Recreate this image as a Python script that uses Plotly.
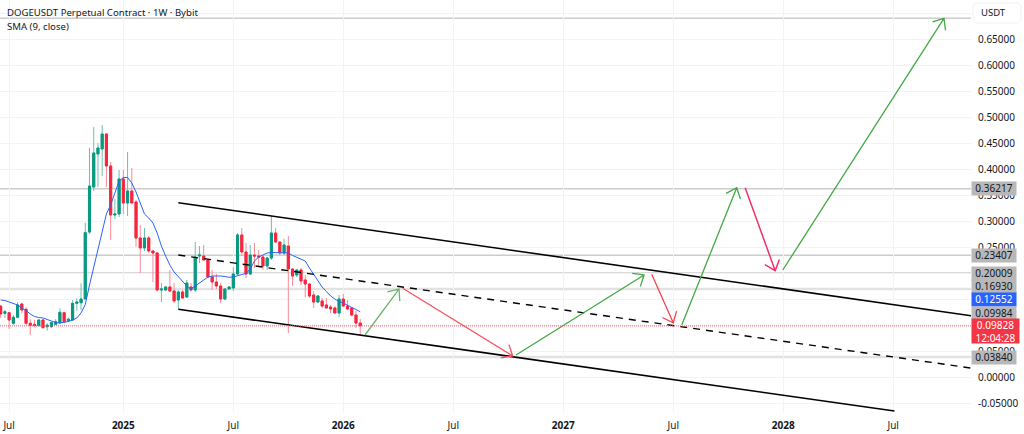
import math
import plotly.graph_objects as go

# ---- data -------------------------------------------------------------
bars = list(range(86))
open_ = [.1365,.1225,.1237,.1033,.1148,.1404,.1302,.1033,.1013,.0987,.1096,.0967,.0967,.1013,.1044,.1237,.1083,.1096,.1417,.1429,.15,
         .2788,.3654,.4288,.4385,.4673,.4058,.3115,.3135,.3808,.3346,.3577,.3365,.2673,.2481,.2673,.2423,.2385,.1673,.1673,.1731,.1654,.1481,.1635,.1538,.1731,.1673,
         .2327,.2327,.225,.1923,.1827,.175,.15,.1692,.1712,.1981,.2731,.2404,.1981,.2346,.2327,.2308,.2135,.2288,.2769,.2596,.2385,.2519,.2077,.1962,.2058,.1865,.1788,.1577,.1442,.1462,.1385,.1346,.1327,.1231,.15,.1365,.1327,.1192,.1038]
high = [.1375,.1288,.1250,.1192,.1437,.1429,.1340,.1110,.1096,.1110,.1110,.1033,.1063,.1110,.1321,.1256,.1148,.1481,.1513,.1802,.2967,
        .4404,.4808,.45,.4846,.4680,.4135,.3423,.3981,.3981,.4327,.4019,.3404,.2923,.2865,.2712,.2442,.2390,.1808,.175,.2058,.1808,.1673,.1673,.1865,.1808,.2596,
        .2519,.2538,.2255,.2058,.1981,.1808,.1712,.175,.2115,.2769,.2865,.2577,.2538,.2577,.2442,.2346,.2308,.3096,.2865,.2600,.2654,.2712,.2096,.2077,.2096,.1962,.1808,.1654,.1577,.1519,.1519,.1385,.1365,.1577,.1596,.1481,.1346,.1269,.1115]
low = [.1135,.1135,.0923,.1,.1129,.1225,.1,.0808,.0967,.0967,.0937,.0890,.0937,.1,.1033,.1033,.1063,.1083,.1269,.1288,.15,
       .275,.3577,.3654,.3865,.3654,.2635,.3038,.3077,.3135,.3096,.3346,.25,.2,.2423,.2385,.1827,.1654,.1442,.1654,.1635,.1423,.1308,.1519,.1519,.1654,.1635,
       .2192,.2231,.1904,.1673,.1692,.1423,.1481,.1685,.1654,.1962,.2327,.1904,.1962,.2096,.2115,.2058,.2058,.225,.2577,.2346,.2346,.0846,.175,.1923,.1769,.1538,.1519,.1327,.1423,.1327,.1327,.1231,.1212,.1154,.1346,.1288,.1173,.0942,.0808]
close = [.1212,.1256,.1096,.1148,.1385,.1288,.1033,.0994,.0987,.1096,.0948,.1,.1044,.1063,.1244,.1063,.1110,.1417,.1442,.15,.2775,
         .3673,.4308,.4404,.4673,.4058,.3115,.3135,.3808,.3346,.3577,.3346,.2673,.2481,.2673,.2423,.2385,.1673,.1692,.1731,.1654,.1462,.1635,.1519,.1808,.1673,.2308,
         .2346,.225,.1923,.1827,.175,.15,.1692,.1731,.1981,.2731,.2404,.1981,.2346,.2327,.2308,.2135,.2288,.2769,.2596,.2385,.2538,.2077,.1942,.2058,.1846,.1788,.1558,.1442,.1558,.1365,.1327,.1308,.1231,.15,.1365,.1308,.1192,.1038,.09828]
sma9 = [.1481,.1471,.1442,.1413,.1385,.1327,.1279,.1212,.1163,.1144,.1135,.1106,.1077,.1048,.1038,.1048,.1067,.1096,.1135,.1231,.1394,
        .1769,.2115,.2481,.2827,.3135,.3308,.3538,.3769,.3837,.3837,.3731,.3558,.3346,.3135,.3058,.2962,.2769,.2519,.2327,.2154,.2019,.1923,.1846,.175,.1692,.175,
        .1817,.1875,.1923,.1942,.1948,.1942,.1933,.1917,.1923,.1952,.1971,.199,.2077,.2231,.2308,.2346,.2385,.2394,.239,.239,.239,.2385,.2337,.2298,.2269,.2231,.2096,.1981,.1846,.1731,.1644,.1558,.15,.1452,.1423,.1375,.1337,.1298,.12552]

tick_bars = [2, 29, 55, 81, 107, 133, 159, 185, 211]
tick_text = ["Jul", "<b>2025</b>", "Jul", "<b>2026</b>", "Jul", "<b>2027</b>", "Jul", "<b>2028</b>", "Jul"]
price_ticks = [-0.05, 0, .05, .10, .15, .20, .25, .30, .35, .40, .45, .50, .55, .60, .65, .70]
price_text = ["%.5f" % p if p != .70 else "" for p in price_ticks]

thin_levels = [.36217, .23407, .20009, .69]
wide_levels = [.1693, .0384]
last_price = .09828

upper_x, upper_y = [42, 229.6], [.3352, .1176]
lower_x, lower_y = [42, 211.3], [.1302, -.0654]
mid_x, mid_y = [42, 229.6], [.2346, .0170]

arrows = [
    (86.13, .0808, 94.17, .1692, "#6cb56c", 1.3),
    (95.04, .1706, 121.05, .0404, "#f7525f", 1.3),
    (121.83, .0423, 152.1, .1962, "#43a843", 1.3),
    (153.9, .1975, 159.0, .1044, "#f7414f", 1.3),
    (161.0, .1000, 174.0, .3640, "#43a843", 1.3),
    (176.0, .3640, 183.1, .2044, "#f23168", 1.5),
    (184.9, .2058, 223.0, .6898, "#43a843", 1.3),
]

price_tags = [
    ("0.36217", .36217, "#b8b8b8", "#131722"),
    ("0.23407", .23320, "#b8b8b8", "#131722"),
    ("0.20009", .20000, "#b8b8b8", "#131722"),
    ("0.16930", .17400, "#b8b8b8", "#131722"),
    ("0.12552", .14940, "#2962ff", "#ffffff"),
    ("0.09984", .12250, "#b8b8b8", "#131722"),
    ("0.03840", .03840, "#b8b8b8", "#131722"),
]

# ---- scales of the layout --------------------------------------------
W, H = 1024, 434
PLOT_W, PLOT_H = 971, 412
PX_PER_BAR = 4.23
X_MIN, X_MAX = -0.158, 229.39
Y_MIN, Y_MAX = -0.0673, 0.725
PX_PER_PRICE = PLOT_H / (Y_MAX - Y_MIN)

FONT = "Noto Sans"
INK = "#131722"
UP, DOWN = "#089981", "#f7253f"
UP_WICK, DOWN_WICK = "#6cc0ad", "#f88a96"

fig = go.Figure()

fig.add_trace(go.Candlestick(
    x=bars, open=open_, high=high, low=low, close=close, whiskerwidth=0,
    increasing=dict(line=dict(color=UP_WICK, width=1), fillcolor=UP_WICK),
    decreasing=dict(line=dict(color=DOWN_WICK, width=1), fillcolor=DOWN_WICK),
    showlegend=False, hoverinfo="skip"))
fig.add_trace(go.Candlestick(
    x=bars, open=open_, close=close,
    high=[max(o, c) for o, c in zip(open_, close)],
    low=[min(o, c) for o, c in zip(open_, close)], whiskerwidth=0,
    increasing=dict(line=dict(color=UP, width=1), fillcolor=UP),
    decreasing=dict(line=dict(color=DOWN, width=1), fillcolor=DOWN),
    showlegend=False, hoverinfo="skip"))
fig.add_trace(go.Scatter(x=bars, y=sma9, mode="lines", line=dict(color="#2962ff", width=1),
                         showlegend=False, hoverinfo="skip"))

for xs, ys, dash, w in [(upper_x, upper_y, "solid", 1.6), (lower_x, lower_y, "solid", 1.6), (mid_x, mid_y, "7px,6px", 1.4)]:
    fig.add_trace(go.Scatter(x=xs, y=ys, mode="lines", line=dict(color="#000000", width=w, dash=dash),
                             showlegend=False, hoverinfo="skip"))

ARM_PX, ARM_ANGLE = 12.0, math.radians(40)
for x0, y0, x1, y1, col, w in arrows:
    dx = (x0 - x1) * PX_PER_BAR
    dy = (y0 - y1) * PX_PER_PRICE
    a = math.atan2(dy, dx)
    xs, ys = [x0, x1], [y0, y1]
    for s in (ARM_ANGLE, -ARM_ANGLE):
        xs += [x1 + ARM_PX * math.cos(a + s) / PX_PER_BAR, x1]
        ys += [y1 + ARM_PX * math.sin(a + s) / PX_PER_PRICE, y1]
    fig.add_trace(go.Scatter(x=xs, y=ys, mode="lines", line=dict(color=col, width=w),
                             showlegend=False, hoverinfo="skip"))

shapes = []
for lv in thin_levels:
    shapes.append(dict(type="line", xref="paper", x0=0, x1=1, yref="y", y0=lv, y1=lv, layer="below",
                       line=dict(color="#cccccc", width=1.5)))
for lv in wide_levels:
    shapes.append(dict(type="line", xref="paper", x0=0, x1=1, yref="y", y0=lv, y1=lv, layer="below",
                       line=dict(color="#e2e2e2", width=2.5)))
shapes.append(dict(type="line", xref="paper", x0=0, x1=1, yref="y", y0=last_price, y1=last_price, layer="above",
                   line=dict(color="#f0606c", width=1, dash="1px,1px")))

def px_x(p): return p / PLOT_W
def px_y(p): return 1 - p / PLOT_H

# currency button
l, r, t, b, c = px_x(973), px_x(1021), px_y(3), px_y(23), 5
cx, cy = c / PLOT_W, c / PLOT_H
shapes.append(dict(type="path", xref="paper", yref="paper", layer="above",
                   path=f"M{l+cx},{t} L{r-cx},{t} Q{r},{t} {r},{t-cy} L{r},{b+cy} Q{r},{b} {r-cx},{b} "
                        f"L{l+cx},{b} Q{l},{b} {l},{b+cy} L{l},{t-cy} Q{l},{t} {l+cx},{t} Z",
                   fillcolor="#ffffff", line=dict(color="#f0f0f0", width=1)))

anns = []
for text, price, bg, fg in price_tags:
    anns.append(dict(x=1.0, xref="paper", y=price, yref="y", text=text, showarrow=False,
                     xanchor="left", yanchor="middle", width=44, height=12.5, align="center", bgcolor=bg,
                     font=dict(family=FONT, size=10, color=fg), borderpad=0))
anns.append(dict(x=1.0, xref="paper", y=last_price - 0.0104, yref="y",
                 text="0.09828<br>12:04:28", showarrow=False, xanchor="left", yanchor="middle",
                 width=47, height=24, align="center", bgcolor="#f23645",
                 font=dict(family=FONT, size=10, color="#ffffff"), borderpad=0))
anns.append(dict(x=px_x(979), xref="paper", y=px_y(13), yref="paper", text="USDT", showarrow=False,
                 xanchor="left", yanchor="middle", font=dict(family=FONT, size=9.5, color=INK)))
anns.append(dict(x=px_x(5), xref="paper", y=px_y(13), yref="paper",
                 text="DOGEUSDT Perpetual Contract · 1W · Bybit", showarrow=False, xanchor="left", yanchor="middle",
                 font=dict(family=FONT, size=9.6, color=INK)))
anns.append(dict(x=px_x(5), xref="paper", y=px_y(27), yref="paper", text="SMA (9, close)", showarrow=False,
                 xanchor="left", yanchor="middle", font=dict(family=FONT, size=9.6, color=INK)))

fig.update_layout(
    width=W, height=H, margin=dict(l=0, r=W - PLOT_W, t=0, b=H - PLOT_H),
    paper_bgcolor="#ffffff", plot_bgcolor="#ffffff", showlegend=False,
    font=dict(family=FONT, size=10, color=INK),
    shapes=shapes, annotations=anns,
    xaxis=dict(range=[X_MIN, X_MAX], tickmode="array", tickvals=tick_bars, ticktext=tick_text,
               showgrid=True, gridcolor="#f2f3f5", gridwidth=1, zeroline=False, showline=False,
               ticks="outside", ticklen=4, tickcolor="rgba(0,0,0,0)", rangeslider=dict(visible=False),
               tickfont=dict(family=FONT, size=10, color=INK)),
    yaxis=dict(range=[Y_MIN, Y_MAX], side="right", tickmode="array", tickvals=price_ticks, ticktext=price_text,
               showgrid=True, gridcolor="#f2f3f5", gridwidth=1, zeroline=False, showline=False,
               ticks="outside", ticklen=4, tickcolor="rgba(0,0,0,0)", tickfont=dict(family=FONT, size=10, color=INK)),
)
fig.write_html("out.html", config=dict(displayModeBar=False),
               post_script="document.body.style.margin='0';")
